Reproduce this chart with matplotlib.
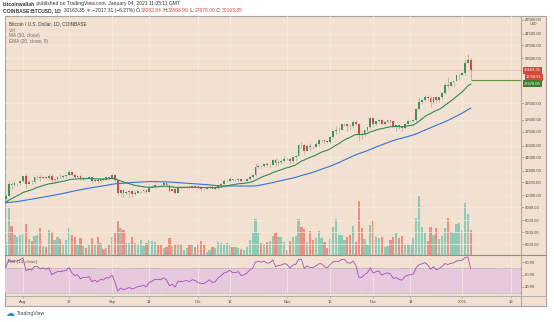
import matplotlib
matplotlib.use('Agg')
import matplotlib.pyplot as plt
import matplotlib.dates as mdates
from matplotlib.lines import Line2D
from matplotlib.patches import Rectangle
from matplotlib.ticker import FormatStrFormatter, NullLocator, NullFormatter
import pandas as pd

plt.rcParams['font.family'] = ['Liberation Sans', 'DejaVu Sans']

# --- data (daily candles, COINBASE BTCUSD) ---
start_date = '2020-07-26'

# closes before the visible window, only used to warm up MA / EMA / RSI
warmup_close = [
    9660, 9760, 9780, 9780, 9890, 9270, 9470, 9470, 9340, 9430,
    9520, 9460, 9380, 9300, 9360, 9290, 9690, 9630, 9290, 9250,
    9160, 9010, 9120, 9190, 9140,
    9230, 9090, 9060, 9130, 9070, 9340, 9250, 9430, 9230, 9290,
    9240, 9300, 9240, 9250, 9190, 9130, 9160, 9170, 9210, 9160,
    9390, 9530, 9610, 9550, 9700,
]

close = [
    9930, 11040, 10930, 11100, 11110, 11350,
    11800, 11070, 11230, 11190, 11750, 11770, 11600, 11760, 11680, 11880,
    11400, 11580, 11780, 11770, 11860, 11910, 12300, 11960, 11750, 11860,
    11520, 11680, 11650, 11760, 11340, 11470, 11330, 11540, 11480, 11710, 11660,
    11930, 11400, 10170, 10470, 10160, 10260, 10380, 10130, 10240, 10360,
    10400, 10440, 10330, 10680, 10790, 10950, 10940, 10930, 11090, 10920,
    10420, 10530, 10240, 10740, 10690, 10730, 10780, 10700, 10840, 10780,
    10620, 10570, 10550, 10670, 10790, 10600, 10670, 10920, 11060, 11300,
    11380, 11540, 11430, 11430, 11500, 11320, 11360, 11490, 11750, 11920,
    12820, 12970, 12930, 13120, 13030, 13070, 13650, 13280, 13460, 13560, 13800,
    13760, 13550, 14020, 14150, 15590, 15580, 14830, 15480, 15330, 15310,
    15700, 16280, 16320, 16070, 15960, 16730, 17660, 17800, 17820, 18680,
    18710, 18420, 18370, 19160, 18720, 17150, 17140, 17720, 18180, 19700,
    18790, 19220, 19450, 18700, 19150, 19360, 19170, 18330, 18550, 18250,
    18040, 18800, 19170, 19270, 19440, 21350, 22800, 23110, 23860, 23480,
    22720, 23820, 23250, 23730, 24700, 26490, 26280, 27040, 27370, 28880, 28990,
    29400, 32200, 33082.84, 30163.35,
]

high = [
    10100, 11400, 11280, 11340, 11170, 11450,
    11860, 12090, 11480, 11420, 11790, 11910, 11920, 11800, 11810, 12070,
    12050, 11630, 11800, 12020, 11980, 11940, 12470, 12400, 12030, 11880,
    11900, 11700, 11710, 11830, 11780, 11540, 11590, 11560, 11590, 11720, 11770,
    12050, 11950, 11460, 10560, 10580, 10350, 10400, 10440, 10350, 10480,
    10420, 10480, 10580, 10800, 10950, 11100, 11040, 11040, 11180, 11120,
    10990, 10580, 10550, 10790, 10760, 10780, 10820, 10950, 10870, 10870,
    10940, 10690, 10600, 10700, 10800, 10800, 10690, 10960, 11110, 11490,
    11440, 11730, 11560, 11550, 11630, 11540, 11410, 11510, 11820, 12030,
    13240, 13190, 13030, 13170, 13350, 13250, 13790, 13860, 13630, 13670, 14080,
    13900, 13830, 14070, 14260, 15750, 15970, 15770, 15650, 15840, 15470,
    15960, 16350, 16480, 16340, 16170, 16880, 17850, 18480, 18190, 18810,
    18960, 18750, 18770, 19420, 19490, 18900, 17450, 17880, 18330, 19860,
    19920, 19320, 19560, 19520, 19180, 19420, 19420, 19290, 18640, 18560,
    18290, 18950, 19410, 19350, 19570, 21560, 23800, 23280, 24300, 24280,
    24100, 23850, 24100, 23800, 24800, 26870, 28420, 27410, 27390, 28990, 29300,
    29600, 33300, 34810, 33666.99,
]

low = [
    9650, 9900, 10570, 10860, 10830, 10960,
    11220, 10650, 11010, 11020, 11090, 11580, 11360, 11530, 11550, 11460,
    11140, 11150, 11290, 11640, 11690, 11690, 11850, 11820, 11580, 11680,
    11480, 11380, 11510, 11600, 11140, 11260, 11170, 11280, 11440, 11460, 11560,
    11520, 11200, 10030, 9960, 9880, 10000, 9880, 9880, 10010, 10200,
    10200, 10300, 10210, 10270, 10630, 10690, 10750, 10820, 10890, 10790,
    10300, 10350, 10140, 10200, 10590, 10650, 10630, 10660, 10650, 10670,
    10520, 10370, 10500, 10530, 10630, 10530, 10560, 10530, 10830, 11030,
    11270, 11190, 11300, 11290, 11270, 11200, 11310, 11340, 11410, 11690,
    11880, 12680, 12730, 12880, 12900, 12780, 13050, 12940, 12980, 13130, 13420,
    13620, 13200, 13300, 13540, 14100, 15190, 14390, 14720, 14820, 14970,
    15290, 15450, 15970, 15710, 15800, 15880, 16580, 17220, 17350, 17740,
    18420, 17610, 18000, 18030, 18590, 16200, 16440, 16880, 17530, 18160,
    18330, 18650, 18920, 18570, 18510, 18910, 18900, 18200, 17650, 17920,
    17570, 18010, 18720, 19000, 19050, 19290, 21230, 22350, 22750, 23070,
    21820, 22360, 22650, 22700, 23420, 24500, 25850, 26200, 25880, 27320, 27850,
    28800, 29000, 32000, 27678.00,
]

# volume, thousand BTC
volume_k = [
    13, 47, 29, 20, 18, 20, 21, 31, 16, 14,
    19, 20, 27, 9, 8, 25, 23, 15, 18, 16,
    10, 15, 27, 20, 18, 10, 17, 9, 7, 10,
    17, 10, 18, 12, 6, 7, 10, 18, 22, 34,
    27, 25, 12, 12, 18, 12, 11, 15, 9, 12,
    15, 14, 13, 10, 10, 7, 8, 17, 9, 10,
    11, 11, 5, 7, 10, 10, 8, 11, 14, 10,
    3, 5, 8, 7, 13, 12, 11, 12, 10, 8,
    8, 7, 6, 5, 8, 15, 22, 36, 22, 12,
    11, 13, 14, 19, 22,
    18, 18, 13, 5, 14, 18, 19,
    36, 28, 26, 13, 24, 15, 17, 24, 17, 13, 7,
    16, 28, 36, 20, 20, 15, 18, 20, 29, 13,
    54, 27, 16, 10, 30, 35, 18, 17, 18,
    8, 9, 15, 18, 22, 17, 19, 10, 11, 10, 17,
    37, 59, 28, 22, 14, 28, 20, 27, 16, 19, 27, 37, 23, 22, 31, 32, 25, 52, 41, 25,
]

price_ticks = [6500, 7200, 8000, 9000, 10000, 11200, 12400, 14000, 15500,
               17500, 19500, 22500, 33500, 37500, 41500, 47000]
rsi_ticks = [40, 60, 80]
date_ticks = ['2020-08-01', '2020-08-17', '2020-09-01', '2020-09-14',
              '2020-10-01', '2020-10-12', '2020-11-01', '2020-11-16',
              '2020-12-01', '2020-12-14', '2021-01-01', '2021-01-18']
date_labels = ['Aug', '17', 'Sep', '14', 'Oct', '12', 'Nov', '16',
               'Dec', '14', '2021', '18']

# --- look ---
W, H = 554, 322
BG = '#f2e1d0'
GRID = '#f7ebdf'
FRAME = '#a5a5a5'
UP, DOWN = '#3f8f63', '#d4483e'
VOL_UP, VOL_DOWN = '#8dcab5', '#f08d80'
TXT = '#4a4a4a'
RED = '#e0453a'


def fx(px):
    return px / W


def fy(py):
    return 1 - py / H


dates = pd.date_range(start_date, periods=len(close), freq='D')
x = mdates.date2num(dates)
opens = [warmup_close[-1]] + close[:-1]

# indicators
all_close = pd.Series(warmup_close + close, dtype=float)
n0 = len(warmup_close)
ma50 = all_close.rolling(50).mean().to_numpy()[n0:]
ema20 = all_close.ewm(span=20, adjust=False).mean().to_numpy()[n0:]
delta = all_close.diff()
avg_up = delta.clip(lower=0).ewm(alpha=1 / 14, adjust=False).mean()
avg_dn = (-delta.clip(upper=0)).ewm(alpha=1 / 14, adjust=False).mean()
rsi = (100 - 100 / (1 + avg_up / avg_dn)).to_numpy()[n0:]

fig = plt.figure(figsize=(W / 100, H / 100), dpi=100, facecolor='white')
# chart background + frame, kept below every axes
fig.patches.append(Rectangle((fx(5), fy(306)), fx(546) - fx(5), fy(16) - fy(306),
                             transform=fig.transFigure, facecolor=BG,
                             edgecolor=FRAME, linewidth=0.8, zorder=-5))

ax = fig.add_axes([fx(5), fy(255), fx(521) - fx(5), fy(16) - fy(255)])
vax = ax.twinx()
ax.set_zorder(vax.get_zorder() + 1)
ax.patch.set_visible(False)
vax.patch.set_visible(False)
rax = fig.add_axes([fx(5), fy(296), fx(521) - fx(5), fy(255) - fy(296)], sharex=ax)
rax.patch.set_visible(False)

xlim = (x[0] - 0.28, x[0] + 179.5)
tick_nums = mdates.date2num(pd.to_datetime(date_ticks))

# volume
vol_cols = [VOL_UP if c >= o else VOL_DOWN for o, c in zip(opens, close)]
vax.bar(x, volume_k, width=0.78, color=vol_cols, linewidth=0)
vax.set_ylim(0, 239)
vax.axis('off')

# candles
cols = [UP if c >= o else DOWN for o, c in zip(opens, close)]
body_lo = [min(o, c) for o, c in zip(opens, close)]
body_h = [max(abs(c - o), 0.002 * c) for o, c in zip(opens, close)]
ax.vlines(x, low, high, color='#9d9d9d', linewidth=0.45, zorder=3)
ax.bar(x, body_h, bottom=body_lo, width=0.62, color=cols, linewidth=0, zorder=4)
ax.plot(x, ma50, color='#2f74dc', linewidth=0.8, zorder=5)
ax.plot(x, ema20, color='#2d8a5e', linewidth=0.8, zorder=5)

ax.axhline(close[-1], color='#e5837a', linewidth=0.5, linestyle=(0, (1, 1.2)), zorder=2)
ax.hlines(low[-1], x[-1], xlim[1], color='#5f9a40', linewidth=0.8, zorder=5)

ax.set_yscale('log')
ax.set_ylim(5899, 48630)
ax.set_xlim(*xlim)
ax.set_yticks(price_ticks)
ax.yaxis.set_minor_locator(NullLocator())
ax.yaxis.set_minor_formatter(NullFormatter())
ax.yaxis.set_major_formatter(FormatStrFormatter('%.2f'))
ax.yaxis.tick_right()
ax.tick_params(axis='y', which='major', direction='out', length=1.8, width=0.4,
               color='#8a8a8a', pad=1.2, labelsize=3.0, labelcolor=TXT)
ax.set_xticks(tick_nums)
ax.tick_params(axis='x', length=0, labelbottom=False)
ax.grid(True, color=GRID, linewidth=0.5)
for s in ax.spines.values():
    s.set_visible(False)

# right-side price labels
ytr = ax.get_yaxis_transform()
lbl = dict(xycoords=ytr, textcoords='offset pixels', ha='left', va='center',
           fontsize=3.0, color='white', annotation_clip=False, zorder=8)
ax.annotate(f'{close[-1]:.2f}', xy=(1, close[-1]), xytext=(3, 0),
            bbox=dict(boxstyle='square,pad=0.35', fc='#d6473c', ec='none'), **lbl)
ax.annotate('12:50:51', xy=(1, close[-1]), xytext=(5, -7),
            bbox=dict(boxstyle='square,pad=0.35', fc='#d6473c', ec='none'), **lbl)
ax.annotate(f'{low[-1]:.2f}', xy=(1, low[-1]), xytext=(3, -4),
            bbox=dict(boxstyle='square,pad=0.35', fc='#3d7f2a', ec='none'), **lbl)
fig.text(fx(534), fy(24), 'USD', fontsize=2.6, color=TXT, ha='center', va='center')

# RSI pane
rax.axhspan(30, 70, color='#e7c9dd', linewidth=0, zorder=0)
rax.axhline(70, color='#b3a3ad', linewidth=0.5, linestyle=(0, (2.5, 1.5)))
rax.axhline(30, color='#b3a3ad', linewidth=0.5, linestyle=(0, (2.5, 1.5)))
rax.plot(x, rsi, color='#a24db6', linewidth=0.6, zorder=3)
rax.set_ylim(25.6, 91.2)
rax.set_yticks(rsi_ticks)
rax.yaxis.set_major_formatter(FormatStrFormatter('%.2f'))
rax.yaxis.tick_right()
rax.tick_params(axis='y', direction='out', length=1.8, width=0.4, color='#8a8a8a',
                pad=1.2, labelsize=3.0, labelcolor=TXT)
rax.set_xticks(tick_nums)
rax.set_xticklabels(date_labels)
rax.tick_params(axis='x', direction='out', length=1.5, width=0.4, color='#8a8a8a',
                pad=1.6, labelsize=3.0, labelcolor=TXT)
rax.grid(axis='x', color=GRID, linewidth=0.5)
for s in rax.spines.values():
    s.set_visible(False)

# panel separators
for xs, ys, c, w in [([521, 521], [16, 306], FRAME, 0.7),
                     ([5, 546], [255, 255], '#8e8e8e', 0.8),
                     ([5, 546], [296, 296], FRAME, 0.6)]:
    fig.add_artist(Line2D([fx(v) for v in xs], [fy(v) for v in ys],
                          transform=fig.transFigure, color=c, linewidth=w))

# header / legend texts
hdr = fig.add_axes([0, 0, 1, 1])
hdr.axis('off')
hdr.set_zorder(10)


def chain(y_px, parts, size):
    t = hdr.text(fx(3), fy(y_px), parts[0][0], fontsize=size, va='bottom',
                 ha='left', **parts[0][1])
    for s, kw in parts[1:]:
        t = hdr.annotate(s, xy=(1, 0), xycoords=t, va='bottom', ha='left',
                         fontsize=size, **kw)


dark = dict(color='#333333')
chain(6.5, [('bitcoinwallah', dict(color='#333333', weight='bold')),
            (' published on TradingView.com, January 04, 2021 11:05:11 GMT', dark)], 3.6)
chain(12.8, [('COINBASE:BTCUSD, 1D', dict(color='#333333', weight='bold')),
             ('  30163.35 ', dark), ('▼', dict(color=RED)),
             (' \u22122017.31 (\u22126.27%) ', dark),
             ('O:', dark), ('33082.84', dict(color=RED)),
             (' H:', dark), ('33666.99', dict(color=RED)),
             (' L:', dark), ('27678.00', dict(color=RED)),
             (' C:', dark), ('30163.35', dict(color=RED))], 3.6)

fig.text(fx(9), fy(24), 'Bitcoin / U.S. Dollar, 1D, COINBASE', fontsize=3.4,
         color='#3a3a3a', va='center')
for yy, s in [(30, 'Vol'), (36, 'MA (50, close)'), (42, 'EMA (20, close, 0)')]:
    fig.text(fx(9), fy(yy), s, fontsize=3.4, color='#6e6e6e', va='center')
fig.text(fx(8), fy(262), 'RSI (14, close)', fontsize=3.2, color='#555555', va='center')

# footer
fig.text(fx(6), fy(313.5), '\u2601', family='DejaVu Sans', fontsize=6.5,
         color='#2a8fd8', va='center')
fig.text(fx(17), fy(313.5), 'TradingView', fontsize=3.6, color='#444444', va='center')

fig.savefig('out.png', dpi=100, facecolor='white')
